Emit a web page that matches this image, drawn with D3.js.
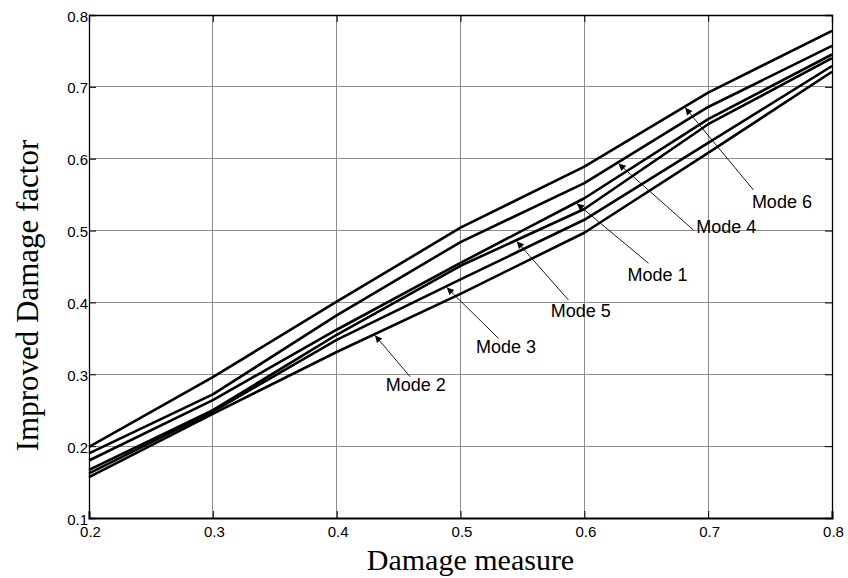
<!DOCTYPE html>
<html>
<head>
<meta charset="utf-8">
<script src="https://cdn.jsdelivr.net/npm/d3@7"></script>
<style>
  html, body { margin: 0; padding: 0; background: #fff; }
  svg { display: block; }
</style>
</head>
<body>
<svg id="chart" width="848" height="578"></svg>
<script>
// Damage measure (x) sampled at these points
const damage = [0.2, 0.3, 0.4, 0.5, 0.6, 0.7, 0.8];

// Improved damage factor per mode
const mode6 = [0.199, 0.296, 0.401, 0.504, 0.589, 0.692, 0.778];
const mode4 = [0.190, 0.272, 0.382, 0.484, 0.566, 0.672, 0.757];
const mode1 = [0.180, 0.264, 0.362, 0.455, 0.545, 0.655, 0.745];
const mode5 = [0.167, 0.250, 0.355, 0.451, 0.530, 0.648, 0.740];
const mode3 = [0.162, 0.248, 0.348, 0.432, 0.515, 0.622, 0.729];
const mode2 = [0.157, 0.245, 0.331, 0.412, 0.497, 0.608, 0.721];

const modeNames = ["Mode 6", "Mode 4", "Mode 1", "Mode 5", "Mode 3", "Mode 2"];
const modeValues = [mode6, mode4, mode1, mode5, mode3, mode2];

const xTicks = [0.2, 0.3, 0.4, 0.5, 0.6, 0.7, 0.8];
const yTicks = [0.1, 0.2, 0.3, 0.4, 0.5, 0.6, 0.7, 0.8];

// Callouts in data units: where the arrow hits its curve, the arrow tail, and the label origin
const calloutTipX   = [0.6815, 0.6276, 0.594, 0.5455, 0.489, 0.431];
const calloutTail   = [[0.7366, 0.5565], [0.6881, 0.5008], [0.6518, 0.4545], [0.5872, 0.4034], [0.5306, 0.3501], [0.4593, 0.2967]];
const calloutLabel  = [[0.7353, 0.531], [0.6903, 0.497], [0.6348, 0.4298], [0.5729, 0.3802], [0.5126, 0.3292], [0.4397, 0.2772]];

const svg = d3.select("#chart");
const plotL = 89, plotR = 832, plotT = 15, plotB = 518;

const x = d3.scaleLinear().domain([0.2, 0.8]).range([plotL, plotR]);
const y = d3.scaleLinear().domain([0.1, 0.8]).range([plotB, plotT]);

// grid
const grid = svg.append("g");
grid.selectAll("line.gx").data(xTicks.slice(1, -1)).join("line")
  .attr("x1", d => x(d)).attr("x2", d => x(d))
  .attr("y1", plotT).attr("y2", plotB)
  .attr("stroke", "#8c8c8c").attr("stroke-width", 1).attr("shape-rendering", "crispEdges");
grid.selectAll("line.gy").data(yTicks.slice(1, -1)).join("line")
  .attr("y1", d => y(d)).attr("y2", d => y(d))
  .attr("x1", plotL).attr("x2", plotR)
  .attr("stroke", "#8c8c8c").attr("stroke-width", 1).attr("shape-rendering", "crispEdges");

// axes with inward ticks
const fontSans = "Liberation Sans, Arial, sans-serif";
const xAxis = svg.append("g").attr("transform", `translate(0,${plotB})`)
  .call(d3.axisBottom(x).tickValues(xTicks).tickSize(-7).tickPadding(8).tickFormat(d3.format(".1f")));
const xAxisTop = svg.append("g").attr("transform", `translate(0,${plotT})`)
  .call(d3.axisTop(x).tickValues(xTicks).tickSize(-7).tickFormat(""));
const yAxis = svg.append("g").attr("transform", `translate(${plotL},0)`)
  .call(d3.axisLeft(y).tickValues(yTicks).tickSize(-7).tickPadding(1).tickFormat(d3.format(".1f")));
const yAxisRight = svg.append("g").attr("transform", `translate(${plotR},0)`)
  .call(d3.axisRight(y).tickValues(yTicks).tickSize(-7).tickFormat(""));

[xAxis, xAxisTop, yAxis, yAxisRight].forEach(g => {
  g.select(".domain").attr("stroke", "#000").attr("stroke-width", 1.3);
  g.selectAll(".tick line").attr("stroke", "#000").attr("stroke-width", 1);
  g.selectAll("text").attr("fill", "#000").style("font-family", fontSans).style("font-size", "15px");
});
xAxis.select(".domain").attr("stroke-width", 2);
xAxis.selectAll("text").attr("dx", "1px");
yAxis.selectAll("text").attr("dy", "0.4em");

// curves
const line = d3.line().x((d, i) => x(damage[i])).y(d => y(d));
svg.append("g").selectAll("path").data(modeValues).join("path")
  .attr("d", line)
  .attr("fill", "none").attr("stroke", "#000").attr("stroke-width", 2.6)
  .attr("stroke-linejoin", "round");

// arrow marker
svg.append("defs").append("marker")
  .attr("id", "head").attr("viewBox", "0 0 10 10")
  .attr("refX", 10).attr("refY", 5)
  .attr("markerWidth", 9).attr("markerHeight", 7)
  .attr("markerUnits", "userSpaceOnUse")
  .attr("orient", "auto")
  .append("path").attr("d", "M0,0 L10,5 L0,10 z").attr("fill", "#000");

const interp = (vals, xv) => {
  const i = Math.min(damage.length - 2, Math.max(0, Math.floor((xv - 0.2) / 0.1 + 1e-9)));
  const t = (xv - damage[i]) / (damage[i + 1] - damage[i]);
  return vals[i] + t * (vals[i + 1] - vals[i]);
};

const callouts = svg.append("g");
modeNames.forEach((name, k) => {
  const tipX = x(calloutTipX[k]);
  const tipY = y(interp(modeValues[k], calloutTipX[k])) + 1.5;
  callouts.append("line")
    .attr("x1", x(calloutTail[k][0])).attr("y1", y(calloutTail[k][1]))
    .attr("x2", tipX).attr("y2", tipY)
    .attr("stroke", "#000").attr("stroke-width", 0.9)
    .attr("marker-end", "url(#head)");
  callouts.append("text")
    .attr("x", x(calloutLabel[k][0])).attr("y", y(calloutLabel[k][1]))
    .style("font-family", fontSans).style("font-size", "18px")
    .attr("fill", "#000")
    .text(name);
});

// axis titles
const fontSerif = "Liberation Serif, Times New Roman, serif";
svg.append("text")
  .attr("x", (plotL + plotR) / 2 + 10).attr("y", 570)
  .attr("text-anchor", "middle")
  .style("font-family", fontSerif).style("font-size", "30px")
  .text("Damage measure");
svg.append("text")
  .attr("transform", `translate(38,${(plotT + plotB) / 2 + 29}) rotate(-90)`)
  .attr("text-anchor", "middle")
  .style("font-family", fontSerif).style("font-size", "31px")
  .text("Improved Damage factor");
</script>
</body>
</html>
